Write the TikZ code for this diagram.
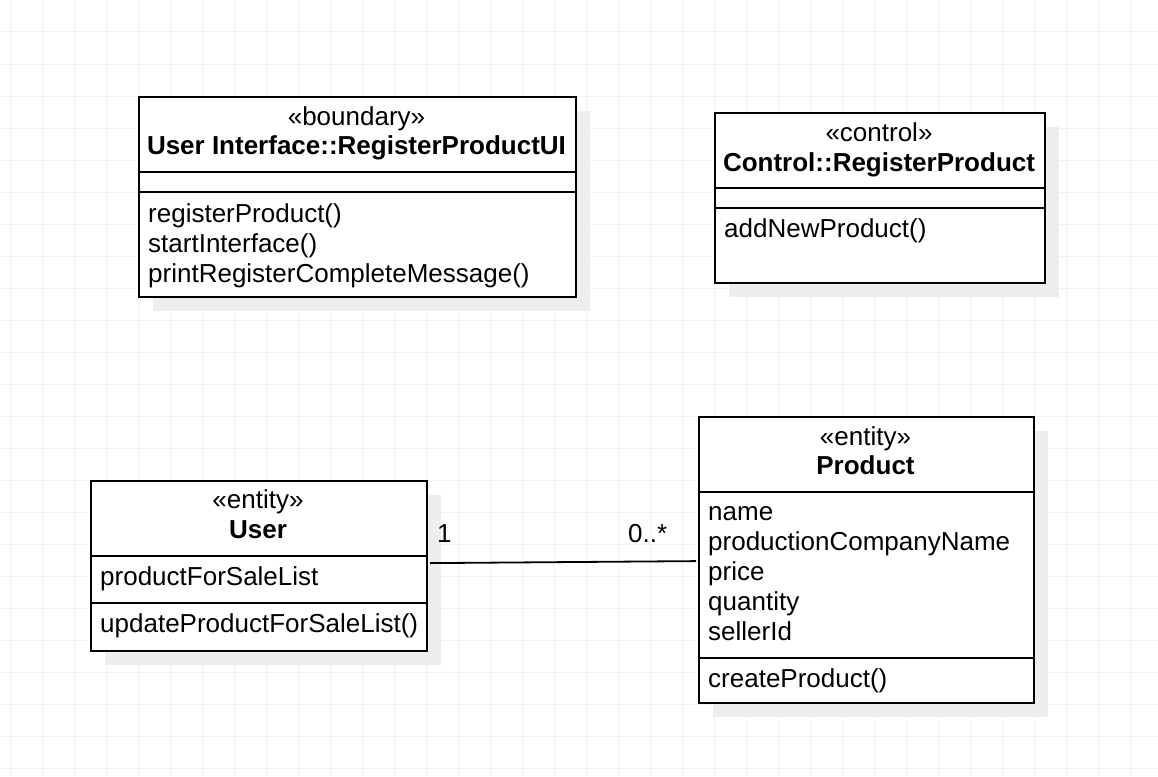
\documentclass[tikz,border=0pt]{standalone}
\usepackage{fontspec}
\setmainfont{Liberation Sans}
\usetikzlibrary{shadows}
\definecolor{gridc}{HTML}{F2F2F2}
\definecolor{shadowc}{HTML}{EEEEEE}
\tikzset{
  umlbox/.style={draw=black, line width=2.2pt, fill=white, anchor=north west, inner sep=0pt,
    drop shadow={shadow xshift=14pt, shadow yshift=-14pt, fill=shadowc, opacity=1}},
  divider/.style={draw=black, line width=1.8pt},
  txt/.style={inner sep=0pt, font=\fontsize{26pt}{30pt}\selectfont},
  ctxt/.style={txt, anchor=base},
  ltxt/.style={txt, anchor=base west},
  btxt/.style={ctxt, font=\fontsize{26pt}{30pt}\selectfont\bfseries},
  assoc/.style={draw=black, line width=1.8pt}
}
\begin{document}
\begin{tikzpicture}[x=1pt,y=-1pt]
\useasboundingbox (0,0) rectangle (1158,776);
\fill[white] (0,0) rectangle (1158,776);
% grid
\foreach \gx in {10,42,...,1158} \draw[gridc, line width=1pt] (\gx,0) -- (\gx,776);
\foreach \gy in {0,32,...,776} \draw[gridc, line width=1pt] (0,\gy) -- (1158,\gy);

% Box 1: boundary
\node[umlbox, minimum width=437pt, minimum height=200pt] (ui) at (138,96) {};
\draw[divider] (138,172) -- (575,172);
\draw[divider] (138,192) -- (575,192);
\node[ctxt] (uist) at (356.5,125) {«boundary»};
\node[btxt] (uiname) at (356.5,154) {User Interface::RegisterProductUI};
\node[ltxt] (uim1) at (148,222) {registerProduct()};
\node[ltxt] (uim2) at (148,252) {startInterface()};
\node[ltxt] (uim3) at (148,282) {printRegisterCompleteMessage()};

% Box 2: control
\node[umlbox, minimum width=330pt, minimum height=170pt] (ctl) at (714,112) {};
\draw[divider] (714,188) -- (1044,188);
\draw[divider] (714,208) -- (1044,208);
\node[ctxt] (ctlst) at (879,141) {«control»};
\node[btxt] (ctlname) at (879,171) {Control::RegisterProduct};
\node[ltxt] (ctlm1) at (724,237) {addNewProduct()};

% Box 3: User
\node[umlbox, minimum width=336pt, minimum height=170pt] (user) at (90,480) {};
\draw[divider] (90,556) -- (426,556);
\draw[divider] (90,603) -- (426,603);
\node[ctxt] (userst) at (258,508) {«entity»};
\node[btxt] (username) at (258,538) {User};
\node[ltxt] (usera1) at (100,585) {productForSaleList};
\node[ltxt] (userm1) at (100,632) {updateProductForSaleList()};

% Box 4: Product
\node[umlbox, minimum width=335pt, minimum height=286pt] (prod) at (698,416) {};
\draw[divider] (698,492) -- (1033,492);
\draw[divider] (698,658) -- (1033,658);
\node[ctxt] (prodst) at (865.5,445) {«entity»};
\node[btxt] (prodname) at (865.5,474) {Product};
\node[ltxt] (proda1) at (708,520) {name};
\node[ltxt] (proda2) at (708,550) {productionCompanyName};
\node[ltxt] (proda3) at (708,580) {price};
\node[ltxt] (proda4) at (708,610) {quantity};
\node[ltxt] (proda5) at (708,640) {sellerId};
\node[ltxt] (prodm1) at (708,687) {createProduct()};

% association
\draw[assoc] ([xshift=2pt,yshift=3pt]user.east) -- ([xshift=-2pt,yshift=-1pt]prod.west);
\node[ltxt] (m1) at (437,542) {1};
\node[ltxt] (m2) at (628,542) {0..*};
\end{tikzpicture}
\end{document}
